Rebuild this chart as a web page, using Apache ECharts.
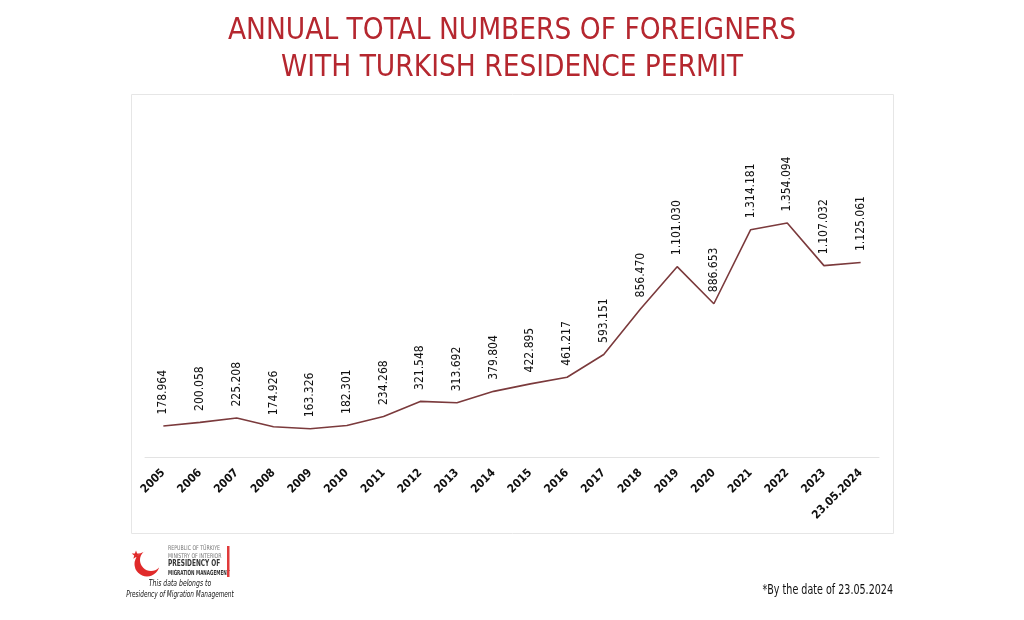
<!DOCTYPE html>
<html><head><meta charset="utf-8">
<script src="https://cdn.jsdelivr.net/npm/echarts@6/dist/echarts.min.js"></script>
<style>html,body{margin:0;padding:0;background:#fff}#c{width:1024px;height:620px}</style>
</head><body><div id="c"></div>
<script>
const categories = ['2005','2006','2007','2008','2009','2010','2011','2012','2013','2014','2015','2016','2017','2018','2019','2020','2021','2022','2023','23.05.2024'];
const permits = [178964,200058,225208,174926,163326,182301,234268,321548,313692,379804,422895,461217,593151,856470,1101030,886653,1314181,1354094,1107032,1125061];
const titleLines = ['ANNUAL TOTAL NUMBERS OF FOREIGNERS','WITH TURKISH RESIDENCE PERMIT'];
const footnote = '*By the date of 23.05.2024';

function fmt(v){return String(v).replace(/\B(?=(\d{3})+(?!\d))/g,'.');}
const chart = echarts.init(document.getElementById('c'));
const condensed = '"DejaVu Sans Condensed","Liberation Sans Narrow","Liberation Sans",sans-serif';
function star(cx,cy,R,r){const p=[];for(let i=0;i<10;i++){const a=-Math.PI/2+i*Math.PI/5;const rr=i%2?r:R;p.push([cx+rr*Math.cos(a),cy+rr*Math.sin(a)]);}return p;}
chart.setOption({
  animation:false,
  backgroundColor:'#fff',
  title:{text:titleLines.join('\n'),left:'center',top:8,
    textStyle:{color:'#b5272f',fontSize:29.5,fontWeight:'normal',lineHeight:37,fontFamily:condensed}},
  grid:{left:145,right:145,top:215,bottom:163},
  xAxis:{type:'category',data:categories,boundaryGap:true,
    axisLine:{lineStyle:{color:'#e3e3e3',width:1}},axisTick:{show:false},
    axisLabel:{rotate:45,interval:0,color:'#111',fontWeight:'bold',fontSize:11.5,margin:14,fontFamily:condensed}},
  yAxis:{type:'value',min:0,max:1400000,show:false,splitLine:{show:false}},
  series:[{type:'line',data:permits,symbol:'circle',symbolSize:1,showSymbol:true,
    itemStyle:{color:'rgba(0,0,0,0)'},
    lineStyle:{color:'#7b3a3c',width:1.6},
    label:{show:true,position:'top',rotate:90,distance:11,color:'#111',fontSize:12,
      fontFamily:condensed,formatter:p=>fmt(p.value),align:'left',verticalAlign:'middle'}}],
  graphic:[
    {type:'rect',shape:{x:131.5,y:94.5,width:762,height:439},style:{fill:'none',stroke:'#e6e6e6',lineWidth:1},silent:true},
    {type:'text',x:893,y:590,scaleX:0.76,style:{text:footnote,x:0,y:0,align:'right',verticalAlign:'middle',fill:'#111',fontSize:14,fontFamily:condensed}},
    // logo
    {type:'circle',shape:{cx:147,cy:564,r:12.5},style:{fill:'#e02a2a'}},
    {type:'circle',shape:{cx:151,cy:560,r:11},style:{fill:'#fff'}},
    {type:'polygon',shape:{points:star(136,555,4.5,1.9)},style:{fill:'#e02a2a'}},
    {type:'text',x:168,y:548,scaleX:0.8,style:{text:'REPUBLIC OF TÜRKIYE',x:0,y:0,verticalAlign:'middle',fill:'#777',fontSize:6.5,fontFamily:condensed}},
    {type:'text',x:168,y:556,scaleX:0.8,style:{text:'MINISTRY OF INTERIOR',x:0,y:0,verticalAlign:'middle',fill:'#777',fontSize:6.5,fontFamily:condensed}},
    {type:'text',x:168,y:564,scaleX:0.72,style:{text:'PRESIDENCY OF',x:0,y:0,verticalAlign:'middle',fill:'#333',fontSize:9,fontWeight:'bold',fontFamily:condensed}},
    {type:'text',x:168,y:573,scaleX:0.66,style:{text:'MIGRATION MANAGEMENT',x:0,y:0,verticalAlign:'middle',fill:'#333',fontSize:7,fontWeight:'bold',fontFamily:condensed}},
    {type:'rect',shape:{x:227,y:546,width:2.5,height:31},style:{fill:'#e03a3a'}},
    {type:'text',x:180,y:584,scaleX:0.85,style:{text:'This data belongs to',x:0,y:0,align:'center',verticalAlign:'middle',fill:'#111',fontSize:8,fontStyle:'italic',fontFamily:condensed}},
    {type:'text',x:180,y:595,scaleX:0.8,style:{text:'Presidency of Migration Management',x:0,y:0,align:'center',verticalAlign:'middle',fill:'#111',fontSize:8,fontStyle:'italic',fontFamily:condensed}}
  ]
});
</script></body></html>
